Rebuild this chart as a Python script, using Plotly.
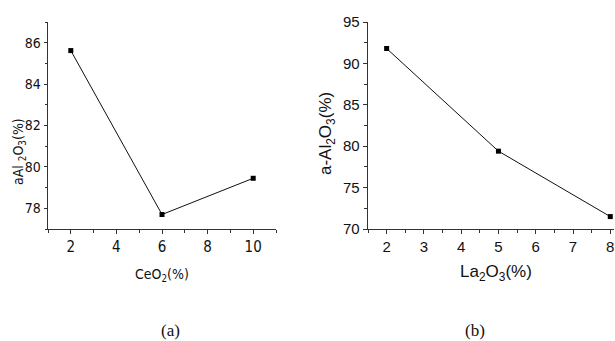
import plotly.graph_objects as go

W, H = 615, 341

# Panel (a)
ceo2 = [2, 6, 10]
alpha_a = [85.62, 77.70, 79.45]
# Panel (b)
la2o3 = [2, 5, 8]
alpha_b = [91.8, 79.4, 71.5]

def px(x):
    return x / W

def py(y):
    return 1 - y / H

fig = go.Figure()

line_style = dict(color="#111", width=1)
marker_style = dict(symbol="square", size=5, color="#000")

fig.add_trace(go.Scatter(x=ceo2, y=alpha_a, mode="lines+markers", line=line_style,
                         marker=marker_style, xaxis="x", yaxis="y", showlegend=False,
                         hoverinfo="skip"))
fig.add_trace(go.Scatter(x=la2o3, y=alpha_b, mode="lines+markers", line=line_style,
                         marker=marker_style, xaxis="x2", yaxis="y2", showlegend=False,
                         hoverinfo="skip"))

narrow = "Liberation Sans Narrow, Arial Narrow, DejaVu Sans Condensed, Liberation Sans, Arial"
sans = "Liberation Sans, Arial"
serif = "Liberation Serif, Times New Roman, serif"

axis_common = dict(showline=True, linecolor="#333", linewidth=1.3, showgrid=False,
                   zeroline=False, ticks="outside", tickwidth=1, tickcolor="#333",
                   automargin=False)

fig.update_layout(
    template="none",
    width=W, height=H, margin=dict(l=0, r=0, t=0, b=0, autoexpand=False),
    paper_bgcolor="white", plot_bgcolor="white",
    xaxis=dict(domain=[px(48), px(276)], range=[1, 11], anchor="y",
               tickmode="linear", tick0=2, dtick=2, ticklen=4,
               minor=dict(dtick=1, tick0=1, ticks="outside", ticklen=2.5, tickcolor="#333"),
               tickfont=dict(family=narrow, size=15, color="#111"), **axis_common),
    yaxis=dict(domain=[py(229), py(22)], range=[77, 87], anchor="x",
               tickmode="linear", tick0=78, dtick=2, ticklen=3,
               minor=dict(dtick=1, tick0=77, ticks="outside", ticklen=2, tickcolor="#333"),
               tickfont=dict(family=narrow, size=14, color="#111"), **axis_common),
    xaxis2=dict(domain=[px(368), px(614)], range=[1.5, 8.1], anchor="y2",
                tickmode="linear", tick0=2, dtick=1, ticklen=4,
                minor=dict(dtick=0.5, tick0=1.5, ticks="outside", ticklen=2.5, tickcolor="#333"),
                tickfont=dict(family=sans, size=15, color="#111"), **axis_common),
    yaxis2=dict(domain=[py(229), py(22)], range=[70, 95], anchor="x2",
                tickmode="linear", tick0=70, dtick=5, ticklen=4,
                minor=dict(dtick=2.5, tick0=70, ticks="outside", ticklen=2.5, tickcolor="#333"),
                tickfont=dict(family=sans, size=15, color="#111"), **axis_common),
)

annotations = [
    dict(text="CeO<sub>2</sub>(%)", x=px(162), y=py(275), font=dict(family=narrow, size=14, color="#111")),
    dict(text="aAl <sub>2</sub>O<sub>3</sub>(%)", x=px(19), y=py(152), textangle=-90,
         font=dict(family=narrow, size=14, color="#111")),
    dict(text="La<sub>2</sub>O<sub>3</sub>(%)", x=px(496), y=py(273), font=dict(family=sans, size=17, color="#111")),
    dict(text="a-Al<sub>2</sub>O<sub>3</sub>(%)", x=px(327), y=py(134), textangle=-90,
         font=dict(family=sans, size=17, color="#111")),
    dict(text="(a)", x=px(170), y=py(330), font=dict(family=serif, size=17, color="#111")),
    dict(text="(b)", x=px(475), y=py(330), font=dict(family=serif, size=17, color="#111")),
]
for a in annotations:
    a.update(xref="paper", yref="paper", showarrow=False, xanchor="center", yanchor="middle")
fig.update_layout(annotations=annotations, hovermode=False)

fig.write_html("out.html",
               config={"displayModeBar": False, "staticPlot": True},
               post_script="document.body.style.margin='0';document.body.style.overflow='hidden';")
